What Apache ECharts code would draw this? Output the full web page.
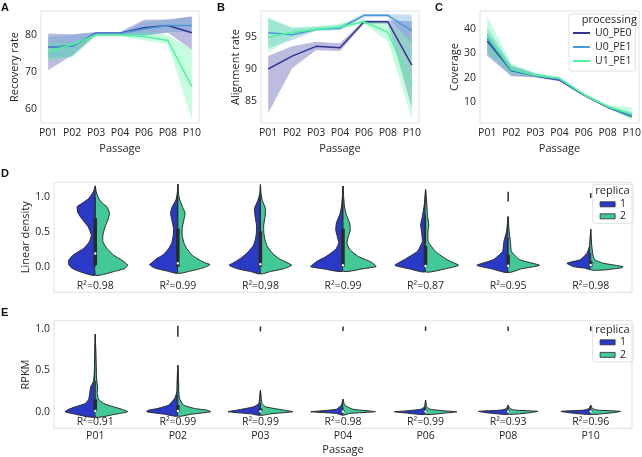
<!DOCTYPE html>
<html><head><meta charset="utf-8">
<script src="https://cdn.jsdelivr.net/npm/echarts@6/dist/echarts.min.js"></script>
<style>html,body{margin:0;padding:0;background:#fff}#c{width:642px;height:457px}</style>
</head><body><div id="c"></div>
<script>
// ---------- data ----------
const passages = ['P01','P02','P03','P04','P06','P08','P10'];
const processing = ['U0_PE0','U0_PE1','U1_PE1'];
const replicas = ['1','2'];

// A: recovery rate (mean, CI low, CI high)
const recoveryU0PE0   = [76.7, 77.0, 80.5, 80.5, 82.0, 82.6, 80.6];
const recoveryU0PE1   = [76.7, 77.0, 80.4, 80.4, 81.6, 82.6, 82.6];
const recoveryU1PE1   = [75.5, 77.4, 80.0, 80.0, 79.6, 78.5, 66.1];
const recoveryU0PE0Lo = [70.5, 74.5, 80.1, 80.1, 79.8, 80.6, 76.0];
const recoveryU0PE0Hi = [80.4, 80.2, 80.8, 80.8, 84.1, 84.2, 85.0];
const recoveryU0PE1Lo = [73.8, 74.2, 80.1, 80.1, 80.0, 80.8, 80.8];
const recoveryU0PE1Hi = [79.5, 80.0, 80.7, 80.7, 83.5, 84.2, 85.0];
const recoveryU1PE1Lo = [73.0, 74.0, 79.7, 79.7, 78.5, 77.6, 57.1];
const recoveryU1PE1Hi = [78.0, 78.0, 80.3, 80.3, 80.8, 80.0, 76.0];

// B: alignment rate
const alignU0PE0   = [90.0, 92.0, 93.5, 93.3, 97.3, 97.3, 90.6];
const alignU0PE1   = [95.6, 95.3, 96.1, 96.3, 98.3, 98.3, 95.9];
const alignU1PE1   = [94.9, 95.7, 96.1, 96.5, 97.3, 95.7, 87.5];
const alignU0PE0Lo = [83.2, 90.1, 92.9, 92.8, 97.0, 97.0, 84.0];
const alignU0PE0Hi = [92.0, 93.5, 94.2, 94.0, 97.5, 97.5, 97.4];
const alignU0PE1Lo = [93.2, 94.5, 95.9, 96.0, 98.0, 98.0, 93.8];
const alignU0PE1Hi = [97.8, 96.3, 96.5, 96.8, 98.5, 98.5, 98.4];
const alignU1PE1Lo = [92.5, 95.0, 95.9, 96.2, 97.0, 94.3, 82.3];
const alignU1PE1Hi = [98.0, 96.5, 96.6, 97.0, 97.7, 97.2, 94.5];

// C: coverage
const covU0PE0   = [35.2, 22.9, 20.7, 19.0, 12.8, 7.7, 4.1];
const covU0PE1   = [36.2, 23.1, 20.8, 19.3, 12.9, 7.8, 4.3];
const covU1PE1   = [37.7, 23.4, 21.0, 19.7, 13.1, 8.0, 4.8];
const covU0PE0Lo = [29.0, 20.6, 20.0, 18.5, 12.4, 7.3, 3.0];
const covU0PE0Hi = [38.5, 24.8, 21.6, 19.6, 13.3, 8.2, 5.0];
const covU0PE1Lo = [30.0, 21.0, 20.2, 18.8, 12.6, 7.4, 3.5];
const covU0PE1Hi = [41.0, 25.0, 21.8, 19.9, 13.4, 8.3, 5.6];
const covU1PE1Lo = [30.5, 21.5, 20.4, 19.1, 12.7, 7.5, 2.5];
const covU1PE1Hi = [45.6, 25.8, 22.0, 20.3, 13.6, 8.6, 7.7];

// D: linear density violins, rows = [value, density replica 1, density replica 2] (density 0-100)
const densityP01 = [[1.163,0,0],[1.08,6,3],[0.986,19,10],[0.913,40,22],[0.865,55,35],[0.77,52,43],[0.673,38,38],[0.577,22,30],[0.457,12,23],[0.36,18,23],[0.264,35,35],[0.168,67,55],[0.096,80,80],[0.024,80,98],[-0.024,70,90],[-0.072,47,55],[-0.12,0,0]];
const densityP02 = [[1.19,0,0],[1.05,2,2],[0.96,6,6],[0.85,18,15],[0.77,22,22],[0.67,18,18],[0.55,13,13],[0.45,14,13],[0.35,18,18],[0.26,28,27],[0.17,45,42],[0.12,63,57],[0.06,78,80],[0.03,86,97],[-0.02,70,75],[-0.06,35,40],[-0.09,0,0]];
const densityP03 = [[1.18,0,0],[1.05,2,2],[0.95,8,6],[0.84,18,15],[0.72,16,14],[0.6,12,10],[0.5,12,10],[0.4,15,13],[0.3,22,20],[0.2,40,35],[0.12,60,55],[0.06,80,80],[0.02,95,95],[-0.03,70,70],[-0.07,30,30],[-0.1,0,0]];
const densityP04 = [[1.16,0,0],[1.0,2,2],[0.85,5,5],[0.75,10,10],[0.63,20,20],[0.53,22,22],[0.43,17,16],[0.34,13,12],[0.25,22,20],[0.15,50,45],[0.08,78,80],[0.03,92,96],[0.0,98,100],[-0.03,60,60],[-0.06,0,0]];
const densityP06 = [[1.11,0,0],[0.89,4,4],[0.72,10,6],[0.6,15,10],[0.5,12,7],[0.36,10,8],[0.22,25,30],[0.1,65,65],[0.02,93,100],[-0.03,50,60],[-0.07,0,0]];
const densityP08 = [[0.72,0,0],[0.5,5,3],[0.36,13,7],[0.22,17,10],[0.1,45,35],[0.02,95,95],[-0.03,50,40],[-0.08,0,0]];
const densityP10 = [[0.54,0,0],[0.31,3,3],[0.19,12,6],[0.1,32,12],[0.05,72,38],[0.0,52,98],[-0.02,20,90],[-0.04,0,0]];
// box: [whisker low, q1, median, q3, whisker high]
const densityBox = [[0,0.02,0.19,0.70,1.0],[0,0,0.05,0.55,1.0],[0,0,0.035,0.51,1.0],[0,0,0.02,0.55,1.0],[0,0,0.01,0.30,0.75],[0,0,0.014,0.17,0.42],[0,0,0.024,0.08,0.2]];
const densityOutliers = [null,null,null,null,null,[0.94,1.08],[0.99,1.06]];
const densityR2 = ['0.98','0.99','0.98','0.99','0.87','0.95','0.98'];

// E: RPKM violins
const rpkmP01 = [[0.935,0,0],[0.6,2,2],[0.45,3,3],[0.36,6,5],[0.3,14,7],[0.22,17,6],[0.15,20,10],[0.1,30,25],[0.06,60,55],[0.03,80,80],[0.0,92,98],[-0.03,60,60],[-0.06,0,0]];
const rpkmP02 = [[0.56,0,0],[0.4,2,2],[0.24,3,3],[0.16,10,5],[0.08,28,17],[0.04,60,50],[0.02,88,87],[0.0,95,100],[-0.03,40,40],[-0.05,0,0]];
const rpkmP03 = [[0.26,0,0],[0.15,3,3],[0.1,5,5],[0.06,20,15],[0.02,70,70],[0.0,98,98],[-0.025,30,30],[-0.04,0,0]];
const rpkmP04 = [[0.15,0,0],[0.08,5,5],[0.03,20,30],[0.01,70,80],[0.0,98,98],[-0.02,20,20],[-0.04,0,0]];
const rpkmP06 = [[0.14,0,0],[0.06,3,3],[0.03,15,15],[0.01,60,60],[0.0,95,95],[-0.015,60,60],[-0.03,0,0]];
const rpkmP08 = [[0.08,0,0],[0.04,5,5],[0.02,20,20],[0.005,90,90],[-0.01,70,70],[-0.03,0,0]];
const rpkmP10 = [[0.08,0,0],[0.04,5,5],[0.02,20,20],[0.005,90,90],[-0.01,70,70],[-0.03,0,0]];
const rpkmBox = [[0,0,0.01,0.15,0.37],[0,0,0.01,0.08,0.2],[0,0,0.005,0.04,0.1],[0,0,0.003,0.02,0.05],[0,0,0.003,0.02,0.05],[0,0,0.003,0.02,0.05],[0,0,0.003,0.02,0.05]];
const rpkmOutliers = [null,[0.907,1.04],[0.97,1.03],[0.976,1.03],[0.976,1.03],[0.976,1.03],[0.976,1.03]];
const rpkmR2 = ['0.91','0.99','0.99','0.98','0.99','0.93','0.96'];

// ---------- styles ----------
const FONT = 'Open Sans';
const TXT = '#262626';
const FRAME = '#dce3e6';
const lineColors = ['#33358f', '#4b98d4', '#4ef59c'];
const bandColors = ['rgba(51,53,160,0.33)', 'rgba(75,152,212,0.33)', 'rgba(78,245,156,0.32)'];
const violinColors = ['#2a39c6', '#42c996'];
const EDGE = '#2a2a2a';

const densityProfiles = [densityP01, densityP02, densityP03, densityP04, densityP06, densityP08, densityP10];
const rpkmProfiles = [rpkmP01, rpkmP02, rpkmP03, rpkmP04, rpkmP06, rpkmP08, rpkmP10];

const chart = echarts.init(document.getElementById('c'), null, {renderer: 'canvas'});

const gridBase = {show: true, borderColor: FRAME, borderWidth: 1, backgroundColor: 'transparent', containLabel: false, outerBoundsMode: 'none'};
const grids = [
  Object.assign({left: 41, top: 11, width: 158, height: 112}, gridBase),
  Object.assign({left: 261, top: 11, width: 158, height: 112}, gridBase),
  Object.assign({left: 480, top: 11, width: 159, height: 112}, gridBase),
  Object.assign({left: 54, top: 182.3, width: 578, height: 110}, gridBase),
  Object.assign({left: 54, top: 320.7, width: 578, height: 107.6}, gridBase)
];

const idx = passages.map((p, i) => i);
function lineX(gi) {
  return {type: 'value', gridIndex: gi, min: -0.3, max: 6.3,
    axisLine: {show: false}, axisTick: {show: false}, splitLine: {show: false},
    axisLabel: {customValues: idx, formatter: v => passages[Math.round(v)], color: TXT, fontSize: 10.5, fontFamily: FONT, margin: 5},
    name: 'Passage', nameLocation: 'middle', nameGap: 20, nameMoveOverlap: false,
    nameTextStyle: {color: TXT, fontSize: 11, fontFamily: FONT}};
}
function valY(gi, min, max, ticks, name, gap, fmt) {
  return {type: 'value', gridIndex: gi, min: min, max: max,
    axisLine: {show: false}, axisTick: {show: false}, splitLine: {show: false},
    axisLabel: {customValues: ticks, formatter: fmt || (v => String(v)), color: TXT, fontSize: 10.5, fontFamily: FONT, margin: 4},
    name: name, nameLocation: 'middle', nameGap: gap, nameMoveOverlap: false,
    nameTextStyle: {color: TXT, fontSize: 11, fontFamily: FONT}};
}
function catX(gi, showLabels, name) {
  return {type: 'category', gridIndex: gi, data: passages, boundaryGap: true,
    axisLine: {show: false}, axisTick: {show: false}, splitLine: {show: false},
    axisLabel: {show: showLabels, color: TXT, fontSize: 10.5, fontFamily: FONT, margin: 2},
    name: name, nameLocation: 'middle', nameGap: 16, nameMoveOverlap: false,
    nameTextStyle: {color: TXT, fontSize: 11, fontFamily: FONT}};
}

function lineSeries(gi, name, values, ci) {
  return {type: 'line', name: name, xAxisIndex: gi, yAxisIndex: gi, z: 3,
    data: values.map((v, i) => [i, v]), symbol: 'none', showSymbol: false,
    lineStyle: {color: lineColors[ci], width: 1.5}, itemStyle: {color: lineColors[ci]},
    emphasis: {disabled: true}, animation: false};
}
function bandSeries(gi, lo, hi, ci) {
  return {type: 'custom', xAxisIndex: gi, yAxisIndex: gi, z: 2, silent: true, animation: false,
    data: [[0, lo[0]]],
    renderItem: function (params, api) {
      const pts = [];
      hi.forEach((v, i) => pts.push(api.coord([i, v])));
      for (let i = lo.length - 1; i >= 0; i--) pts.push(api.coord([i, lo[i]]));
      return {type: 'polygon', shape: {points: pts}, style: {fill: bandColors[ci], stroke: null}};
    }};
}
function violinHalf(gi, profiles, col, name) {
  const dir = col === 1 ? -1 : 1;
  const color = violinColors[col - 1];
  return {type: 'custom', name: name, xAxisIndex: gi, yAxisIndex: gi, z: 3, animation: false,
    itemStyle: {color: color},
    data: profiles.map((p, i) => [i, p[0][0]]),
    renderItem: function (params, api) {
      const i = api.value(0);
      const prof = profiles[i];
      const cx = api.coord([i, 0])[0];
      const bw = api.size([1, 0])[0];
      const pts = prof.map(r => [cx + dir * r[col] / 100 * 0.4 * bw, api.coord([i, r[0]])[1]]);
      return {type: 'polygon', shape: {points: pts, smooth: 0.15},
        style: {fill: color, stroke: EDGE, lineWidth: 1}};
    }};
}
function boxSeries(gi, boxes, outliers, r2, labelY) {
  return {type: 'custom', xAxisIndex: gi, yAxisIndex: gi, z: 4, silent: true, animation: false,
    data: boxes.map((b, i) => [i, b[2]]),
    renderItem: function (params, api) {
      const i = api.value(0);
      const b = boxes[i];
      const cx = api.coord([i, 0])[0];
      const ys = b.map(v => api.coord([i, v])[1]);
      const children = [
        {type: 'line', shape: {x1: cx, y1: ys[0], x2: cx, y2: ys[4]}, style: {stroke: EDGE, lineWidth: 1}},
        {type: 'line', shape: {x1: cx, y1: ys[1], x2: cx, y2: ys[3]}, style: {stroke: EDGE, lineWidth: 3.5}},
        {type: 'circle', shape: {cx: cx, cy: ys[2], r: 1.2}, style: {fill: '#ffffff'}}
      ];
      const o = outliers[i];
      if (o) {
        children.push({type: 'line', shape: {x1: cx, y1: api.coord([i, o[0]])[1], x2: cx, y2: api.coord([i, o[1]])[1]},
          style: {stroke: EDGE, lineWidth: 1.5}});
      }
      const ly = api.coord([i, labelY])[1];
      children.push({type: 'text', x: cx, y: ly,
        style: {text: 'R²=' + r2[i], fill: TXT, font: '10.5px "' + FONT + '"', align: 'center', verticalAlign: 'middle'}});
      return {type: 'group', children: children};
    }};
}

const series = [
  // A
  lineSeries(0, processing[0], recoveryU0PE0, 0), bandSeries(0, recoveryU0PE0Lo, recoveryU0PE0Hi, 0),
  lineSeries(0, processing[1], recoveryU0PE1, 1), bandSeries(0, recoveryU0PE1Lo, recoveryU0PE1Hi, 1),
  lineSeries(0, processing[2], recoveryU1PE1, 2), bandSeries(0, recoveryU1PE1Lo, recoveryU1PE1Hi, 2),
  // B
  lineSeries(1, processing[0], alignU0PE0, 0), bandSeries(1, alignU0PE0Lo, alignU0PE0Hi, 0),
  lineSeries(1, processing[1], alignU0PE1, 1), bandSeries(1, alignU0PE1Lo, alignU0PE1Hi, 1),
  lineSeries(1, processing[2], alignU1PE1, 2), bandSeries(1, alignU1PE1Lo, alignU1PE1Hi, 2),
  // C
  lineSeries(2, processing[0], covU0PE0, 0), bandSeries(2, covU0PE0Lo, covU0PE0Hi, 0),
  lineSeries(2, processing[1], covU0PE1, 1), bandSeries(2, covU0PE1Lo, covU0PE1Hi, 1),
  lineSeries(2, processing[2], covU1PE1, 2), bandSeries(2, covU1PE1Lo, covU1PE1Hi, 2),
  // D
  violinHalf(3, densityProfiles, 1, replicas[0]), violinHalf(3, densityProfiles, 2, replicas[1]),
  boxSeries(3, densityBox, densityOutliers, densityR2, -0.274),
  // E
  violinHalf(4, rpkmProfiles, 1, replicas[0]), violinHalf(4, rpkmProfiles, 2, replicas[1]),
  boxSeries(4, rpkmBox, rpkmOutliers, rpkmR2, -0.128)
];

const legText = {color: TXT, fontSize: 10.5, fontFamily: FONT, lineHeight: 12};
const replicaLegendData = replicas.map((r, i) => ({name: r, icon: 'rect',
  itemStyle: {color: violinColors[i], borderColor: EDGE, borderWidth: 0.8}}));
const processingLegendData = processing.map((p, i) => ({name: p, icon: 'rect',
  itemStyle: {color: lineColors[i], borderWidth: 0}}));

const LETTER = 'bold 11px "Liberation Sans"';
const option = {
  animation: false,
  backgroundColor: '#ffffff',
  textStyle: {fontFamily: FONT},
  grid: grids,
  xAxis: [lineX(0), lineX(1), lineX(2), catX(3, false, ''), catX(4, true, 'Passage')],
  yAxis: [
    valY(0, 56.2, 86.5, [60, 70, 80], 'Recovery rate', 21),
    valY(1, 81.65, 98.97, [85, 90, 95], 'Alignment rate', 20),
    valY(2, 1.17, 47.6, [10, 20, 30, 40], 'Coverage', 20),
    valY(3, -0.369, 1.216, [0, 0.5, 1], 'Linear density', 23, v => v.toFixed(1)),
    valY(4, -0.2, 1.1, [0, 0.5, 1], 'RPKM', 23, v => v.toFixed(1))
  ],
  legend: [
    {data: processingLegendData, orient: 'vertical', left: 569, top: 14, padding: [13, 4, 4, 4],
      itemWidth: 17, itemHeight: 2, itemGap: 2, borderColor: FRAME, borderWidth: 1, borderRadius: 2,
      textStyle: legText, selectedMode: false},
    {data: replicaLegendData, orient: 'vertical', left: 592.7, top: 184.3, padding: [14, 7, 1, 7],
      itemWidth: 15, itemHeight: 5, itemGap: 0, borderColor: FRAME, borderWidth: 1, borderRadius: 2,
      textStyle: legText, selectedMode: false},
    {data: replicaLegendData, orient: 'vertical', left: 592.7, top: 324.3, padding: [12, 7, 1, 7],
      itemWidth: 15, itemHeight: 5, itemGap: 0.6, borderColor: FRAME, borderWidth: 1, borderRadius: 2,
      textStyle: legText, selectedMode: false}
  ],
  graphic: [
    {type: 'text', left: 1, top: 2, style: {text: 'A', font: LETTER, fill: '#111'}},
    {type: 'text', left: 217, top: 2, style: {text: 'B', font: LETTER, fill: '#111'}},
    {type: 'text', left: 435, top: 2, style: {text: 'C', font: LETTER, fill: '#111'}},
    {type: 'text', left: 1, top: 168, style: {text: 'D', font: LETTER, fill: '#111'}},
    {type: 'text', left: 1, top: 307, style: {text: 'E', font: LETTER, fill: '#111'}},
    {type: 'text', x: 637, y: 20, z: 100, style: {text: 'processing', font: '11px "' + FONT + '"', fill: TXT, align: 'right', verticalAlign: 'middle'}},
    {type: 'text', x: 612.5, y: 191, z: 100, style: {text: 'replica', font: '11px "' + FONT + '"', fill: TXT, align: 'center', verticalAlign: 'middle'}},
    {type: 'text', x: 612.5, y: 329.5, z: 100, style: {text: 'replica', font: '11px "' + FONT + '"', fill: TXT, align: 'center', verticalAlign: 'middle'}}
  ],
  series: series
};
chart.setOption(option);
</script>
</body></html>
